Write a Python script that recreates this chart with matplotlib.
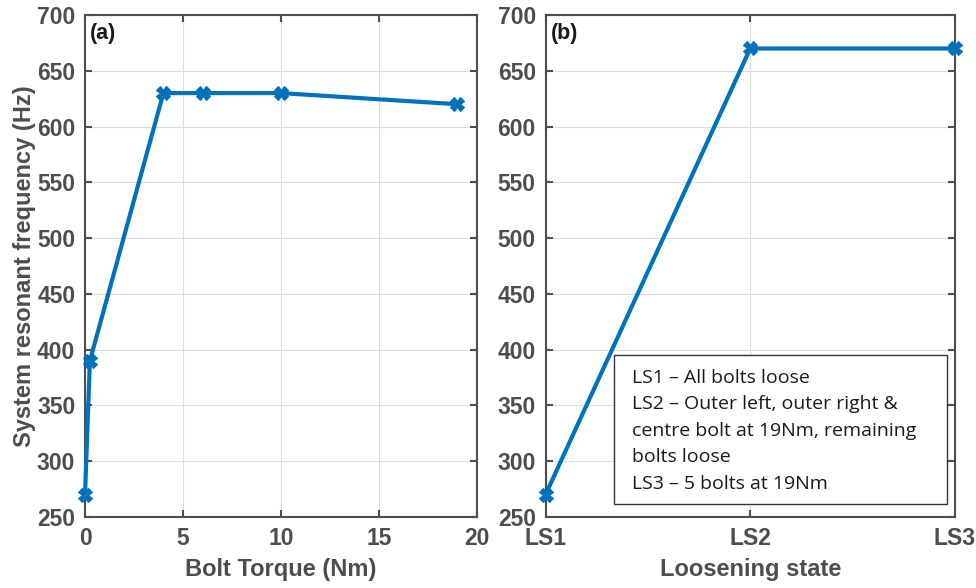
import matplotlib
matplotlib.use("Agg")
import matplotlib.pyplot as plt

torque = [0, 0.25, 4, 6, 10, 19]
freq_a = [270, 390, 630, 630, 630, 620]
states = ["LS1", "LS2", "LS3"]
freq_b = [270, 670, 670]
legend_lines = ["LS1 \u2013 All bolts loose",
                "LS2 \u2013 Outer left, outer right &",
                "centre bolt at 19Nm, remaining",
                "bolts loose",
                "LS3 \u2013 5 bolts at 19Nm"]

plt.rcParams['font.family'] = ['Liberation Sans', 'DejaVu Sans']
gray = '#4d4d4d'
blue = '#0072BD'

fig = plt.figure(figsize=(9.76, 5.88), dpi=100)
W, H = 976, 588
axa = fig.add_axes([85/W, 1-517/H, (477-85)/W, (517-15)/H])
axb = fig.add_axes([545.5/W, 1-517/H, (955-545.5)/W, (517-15)/H])

def style(ax):
    ax.set_ylim(250, 700)
    ax.set_yticks(range(250, 701, 50))
    ax.grid(True, color='#dcdcdc', linewidth=0.8)
    ax.set_axisbelow(True)
    for s in ax.spines.values():
        s.set_color(gray)
        s.set_linewidth(1.5)
    ax.tick_params(direction='in', length=5, width=1.5, color=gray,
                   labelcolor=gray, labelsize=16.5, top=True, right=True, pad=7)
    for lbl in ax.get_xticklabels() + ax.get_yticklabels():
        lbl.set_fontweight('bold')

axa.plot(torque, freq_a, color=blue, linewidth=3, marker='X', markersize=9.5,
         markeredgewidth=0.8, clip_on=False, zorder=3)
axa.set_xlim(0, 20)
axa.set_xticks([0, 5, 10, 15, 20])
style(axa)
axa.set_xlabel('Bolt Torque (Nm)', fontsize=17, fontweight='bold', color=gray, labelpad=6)
axa.set_ylabel('System resonant frequency (Hz)', fontsize=17, fontweight='bold', color=gray, labelpad=1)
axa.text(0.012, 0.985, '(a)', transform=axa.transAxes, fontsize=15.5, fontweight='bold',
         color='#1a1a1a', va='top', ha='left')

xb = list(range(len(states)))
axb.plot(xb, freq_b, color=blue, linewidth=3, marker='X', markersize=9.5,
         markeredgewidth=0.8, clip_on=False, zorder=3)
axb.set_xlim(0, 2)
axb.set_xticks(xb)
axb.set_xticklabels(states)
style(axb)
axb.set_xlabel('Loosening state', fontsize=17, fontweight='bold', color=gray, labelpad=6)
axb.text(0.012, 0.985, '(b)', transform=axb.transAxes, fontsize=15.5, fontweight='bold',
         color='#1a1a1a', va='top', ha='left')

# legend-like text box
bx0, by0, bx1, by1 = 614, 355, 947, 504
rect = plt.Rectangle((bx0/W, 1-by1/H), (bx1-bx0)/W, (by1-by0)/H, transform=fig.transFigure,
                     facecolor='white', edgecolor='#333333', linewidth=1.0, zorder=5)
fig.add_artist(rect)
fig.text(632/W, 1-369/H, "\n".join(legend_lines), fontsize=14, family=['Open Sans', 'DejaVu Sans'],
         color='#1a1a1a', va='top', ha='left', linespacing=1.6, zorder=6)

fig.savefig('out.png', dpi=100)
